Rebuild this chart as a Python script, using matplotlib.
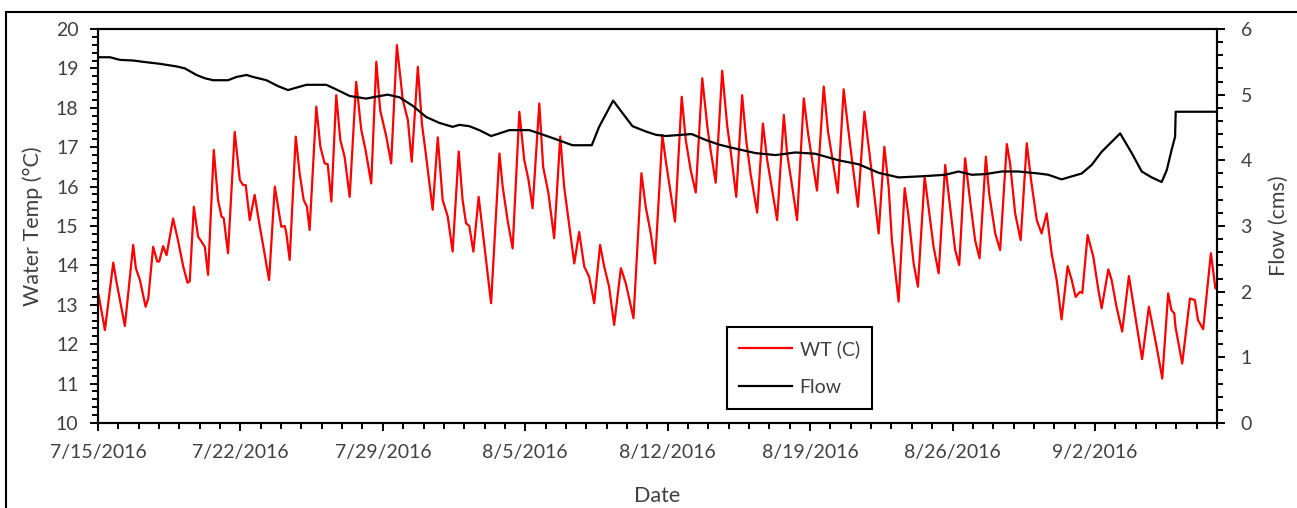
import matplotlib
matplotlib.use("Agg")
import matplotlib.pyplot as plt
import matplotlib.dates as mdates
from matplotlib.ticker import MultipleLocator
from matplotlib.patches import Rectangle
import pandas as pd

plt.rcParams['font.family'] = ['Lato', 'DejaVu Sans']

start_date = "2016-07-15"
end_days = 55

# Water temperature: time (days since 7/15/2016 00:00) and value (deg C)
wt_days = [0.03, 0.34, 0.75, 0.92, 1.32, 1.73, 1.86, 2.06, 2.34, 2.47, 2.71, 2.91, 3.01, 3.20, 3.37,
           3.69, 3.93, 4.19, 4.40, 4.51, 4.71, 4.92, 5.09, 5.25, 5.41, 5.69, 5.90, 6.07, 6.18, 6.39,
           6.72, 6.97, 7.13, 7.26, 7.46, 7.70, 7.87, 8.41, 8.69, 8.85, 9.01, 9.18, 9.26, 9.42, 9.72,
           9.91, 10.11, 10.27, 10.40, 10.73, 10.93, 11.14, 11.29, 11.47, 11.71, 11.91, 12.12, 12.37,
           12.69, 12.94, 13.15, 13.43, 13.68, 13.87, 14.17, 14.41, 14.69, 14.98, 15.23, 15.42, 15.72,
           15.92, 16.13, 16.45, 16.70, 16.94, 17.19, 17.43, 17.73, 17.92, 18.09, 18.25, 18.45, 18.71,
           19.32, 19.73, 19.89, 20.13, 20.38, 20.71, 20.95, 21.16, 21.36, 21.69, 21.88, 22.14, 22.42,
           22.72, 22.91, 23.41, 23.65, 23.90, 24.14, 24.39, 24.68, 24.88, 25.12, 25.37, 25.70, 25.94,
           26.32, 26.71, 26.92, 27.17, 27.38, 27.74, 27.90, 28.10, 28.36, 28.69, 28.89, 29.13, 29.38,
           29.70, 29.95, 30.11, 30.36, 30.68, 30.93, 31.09, 31.37, 31.66, 31.86, 32.07, 32.40, 32.68,
           32.89, 33.11, 33.38, 33.71, 33.87, 34.12, 34.36, 34.69, 34.90, 35.10, 35.34, 35.67, 35.88,
           36.08, 36.36, 36.65, 36.86, 37.06, 37.35, 37.67, 37.88, 38.13, 38.37, 38.65, 38.86, 39.02,
           39.35, 39.65, 39.84, 40.09, 40.30, 40.63, 40.82, 41.07, 41.32, 41.64, 41.84, 42.13, 42.33,
           42.62, 42.82, 43.11, 43.33, 43.64, 43.80, 44.10, 44.34, 44.67, 44.83, 45.08, 45.35, 45.65,
           45.86, 46.14, 46.38, 46.63, 46.87, 47.12, 47.36, 47.66, 47.86, 48.05, 48.27, 48.38, 48.64,
           48.92, 49.17, 49.33, 49.66, 49.82, 50.06, 50.34, 50.67, 50.88, 51.09, 51.32, 51.65, 51.78,
           52.03, 52.31, 52.60, 52.76, 52.90, 52.96, 53.29, 53.67, 53.91, 54.07, 54.32, 54.70, 54.92]
wt_vals = [13.25, 12.36, 14.07, 13.55, 12.46, 14.52, 13.93, 13.63, 12.95, 13.16, 14.47, 14.10, 14.10, 14.49, 14.26,
           15.19, 14.64, 13.97, 13.56, 13.60, 15.49, 14.73, 14.60, 14.47, 13.76, 16.93, 15.66, 15.24, 15.20, 14.31,
           17.39, 16.17, 16.04, 16.04, 15.15, 15.79, 15.24, 13.63, 16.00, 15.49, 14.98, 15.00, 14.81, 14.14, 17.27,
           16.34, 15.66, 15.49, 14.90, 18.03, 17.01, 16.59, 16.57, 15.62, 18.32, 17.18, 16.76, 15.74,
           18.66, 17.44, 16.93, 16.08, 19.17, 17.94, 17.27, 16.59, 19.59, 18.20, 17.69, 16.63, 19.04,
           17.60, 16.76, 15.41, 17.25, 15.66, 15.24, 14.35, 16.89, 15.66, 15.07, 15.00, 14.35, 15.74,
           13.04, 16.84, 16.00, 15.15, 14.43, 17.90, 16.68, 16.17, 15.45, 18.11, 16.50, 15.83, 14.69,
           17.27, 16.00, 14.05, 14.85, 13.97, 13.71, 13.04, 14.52, 13.97, 13.46, 12.49, 13.93, 13.55,
           12.66, 16.34, 15.49, 14.81, 14.05, 17.31, 16.68, 16.00, 15.11, 18.28, 17.18, 16.42, 15.85,
           18.75, 17.52, 16.93, 16.10, 18.94, 17.52, 16.93, 15.74, 18.32, 17.18, 16.34, 15.34, 17.60,
           16.68, 16.00, 15.15, 17.82, 16.84, 16.00, 15.15, 18.24, 17.35, 16.68, 15.90, 18.54, 17.40,
           16.76, 15.84, 18.47, 17.52, 16.68, 15.49, 17.90, 17.01, 15.91, 14.81, 17.01, 16.00, 14.64,
           13.08, 15.96, 15.24, 14.05, 13.46, 16.25, 15.49, 14.47, 13.80, 16.55, 15.66, 14.39, 14.01,
           16.72, 15.83, 14.64, 14.18, 16.76, 15.83, 14.81, 14.39, 17.08, 16.59, 15.32, 14.64, 17.10,
           16.17, 15.15, 14.81, 15.32, 14.31, 13.63, 12.63, 13.98, 13.63, 13.20, 13.33, 13.30, 14.77,
           14.22, 13.38, 12.91, 13.90, 13.63, 12.95, 12.32, 13.73, 13.04, 12.36, 11.62, 12.95, 12.61,
           11.94, 11.13, 13.29, 12.87, 12.78, 12.44, 11.51, 13.16, 13.12, 12.61, 12.38, 14.31, 13.42]

# Flow: time (days since 7/15/2016 00:00) and value (cms)
flow_days = [0.00, 0.59, 1.08, 1.73, 2.22, 3.04, 3.86, 4.27, 4.84, 5.25, 5.66, 6.39, 6.81, 7.30, 7.62,
             8.28, 8.85, 9.34, 9.67, 10.24, 11.22, 11.71, 12.37, 13.18, 13.68, 14.24, 14.82, 15.47,
             16.13, 16.78, 17.43, 17.76, 18.25, 18.74, 19.32, 19.73, 20.22, 21.20, 21.69, 22.34, 23.32,
             24.27, 24.63, 25.32, 25.78, 26.27, 26.92, 27.41, 27.90, 28.72, 29.18, 29.87, 30.52, 31.17,
             32.32, 33.30, 34.28, 35.26, 36.41, 37.39, 38.37, 39.35, 40.66, 41.64, 42.30, 42.95, 43.61,
             44.42, 45.24, 46.22, 46.71, 47.36, 48.35, 48.84, 49.33, 50.24, 50.81, 51.30, 51.79, 52.28,
             52.53, 52.77, 52.94, 52.97, 54.95]
flow_vals = [5.57, 5.57, 5.53, 5.52, 5.50, 5.47, 5.43, 5.40, 5.30, 5.25, 5.22, 5.22, 5.27, 5.30, 5.27,
             5.22, 5.13, 5.07, 5.10, 5.15, 5.15, 5.08, 4.98, 4.94, 4.97, 5.00, 4.96, 4.83,
             4.66, 4.57, 4.51, 4.54, 4.52, 4.46, 4.37, 4.41, 4.46, 4.46, 4.41, 4.34, 4.23,
             4.23, 4.51, 4.91, 4.72, 4.52, 4.44, 4.39, 4.37, 4.39, 4.40, 4.31, 4.24, 4.19,
             4.11, 4.08, 4.12, 4.10, 4.00, 3.94, 3.81, 3.74, 3.76, 3.78, 3.83, 3.78, 3.79,
             3.83, 3.83, 3.80, 3.78, 3.71, 3.80, 3.93, 4.13, 4.41, 4.11, 3.83, 3.74, 3.67,
             3.85, 4.16, 4.36, 4.74, 4.74]

tick_labels = ["7/15/2016", "7/22/2016", "7/29/2016", "8/5/2016", "8/12/2016", "8/19/2016", "8/26/2016", "9/2/2016"]

start = pd.Timestamp(start_date)
wt_t = start + pd.to_timedelta(wt_days, unit="D")
flow_t = start + pd.to_timedelta(flow_days, unit="D")
tick_t = [pd.Timestamp(s) for s in tick_labels]

W, H = 1297, 508
fig = plt.figure(figsize=(W / 100, H / 100), dpi=100)
ax = fig.add_axes([98 / W, 1 - 423 / H, (1217 - 98) / W, (423 - 29) / H])
ax2 = ax.twinx()

txt = "#404040"
lw_sp = 1.5

l1, = ax.plot(wt_t, wt_vals, color="#FF0000", lw=1.6, label="WT (C)")
l2, = ax2.plot(flow_t, flow_vals, color="black", lw=1.6, label="Flow")

ax.set_xlim(start, start + pd.Timedelta(days=end_days))
ax.set_ylim(10, 20)
ax2.set_ylim(0, 6)

ax.set_xticks(tick_t)
ax.set_xticklabels(tick_labels)
ax.xaxis.set_minor_locator(mdates.DayLocator())
ax.yaxis.set_major_locator(MultipleLocator(1))
ax.yaxis.set_minor_locator(MultipleLocator(0.2))
ax2.yaxis.set_major_locator(MultipleLocator(1))
ax2.yaxis.set_minor_locator(MultipleLocator(0.2))

for a in (ax, ax2):
    for s in a.spines.values():
        s.set_linewidth(lw_sp)
        s.set_color("black")

ax.tick_params(axis="x", which="major", direction="out", length=6, width=1.4, labelsize=14, colors="black", labelcolor=txt, pad=9)
ax.tick_params(axis="x", which="minor", direction="out", length=4, width=1.4, colors="black")
ax.tick_params(axis="y", which="major", direction="out", length=6, width=1.4, labelsize=14, colors="black", labelcolor=txt, pad=8)
ax.tick_params(axis="y", which="minor", direction="out", length=4, width=1.4, colors="black")
ax2.tick_params(axis="y", which="major", direction="out", length=6, width=1.4, labelsize=14, colors="black", labelcolor=txt, pad=11)
ax2.tick_params(axis="y", which="minor", direction="out", length=4, width=1.4, colors="black")

ax.set_xlabel("Date", fontsize=15.5, color=txt)
ax.xaxis.set_label_coords(0.5, -0.16)
ax.set_ylabel("Water Temp (°C)", fontsize=15.5, color=txt)
ax.yaxis.set_label_coords(-0.049, 0.5)
ax2.set_ylabel("Flow (cms)", fontsize=15.5, color=txt)
ax2.yaxis.set_label_coords(1.046, 0.5)

leg = ax2.legend([l1, l2], ["WT (C)", "Flow"], loc="upper left",
                 bbox_to_anchor=(726.7 / W, 1 - 327.3 / H), bbox_transform=fig.transFigure,
                 borderaxespad=0, fontsize=14, frameon=True, fancybox=False, framealpha=1,
                 edgecolor="black", handlelength=2.7, handletextpad=0.4, labelspacing=1.1,
                 borderpad=0.65, labelcolor=txt)
leg.get_frame().set_linewidth(1.5)

fig.add_artist(Rectangle((6 / W, -0.5), 2.0, 0.5 + 1 - 12 / H, transform=fig.transFigure,
                         fill=False, edgecolor="black", lw=1.5))

fig.savefig("out.png", dpi=100)
